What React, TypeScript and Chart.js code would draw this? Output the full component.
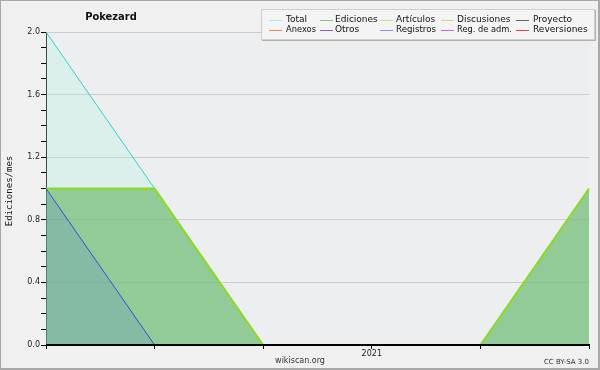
import React, { useEffect, useRef } from "react";
import { Chart, registerables } from "chart.js";

Chart.register(...registerables);

const months = ["2020-10", "2020-11", "2020-12", "2021-01", "2021-02", "2021-03"];
const totalValues = [2, 1, 0, 0, 0, 1];
const articulosValues = [1, 1, 0, 0, 0, 1];
const registrosValues = [1, 0, 0, 0, 0, 0];
const yMax = 2;

const legendLabels = [
  "Total", "Ediciones", "Artículos", "Discusiones", "Proyecto",
  "Anexos", "Otros", "Registros", "Reg. de adm.", "Reversiones",
];
const legendColors = [
  "#a8e8e6", "#7cc98a", "#bfe86a", "#ecd070", "#666666",
  "#f08a4a", "#8a5ad0", "#8a94ec", "#c46ad8", "#e04848",
];

const chartTitle = "Pokezard";
const yTitle = "Ediciones/mes";
const footer = "wikiscan.org";
const license = "CC BY-SA 3.0";

const decor = {
  id: "decor",
  beforeDraw(chart: any) {
    const { ctx, chartArea: a, width, height } = chart;
    ctx.save();
    ctx.fillStyle = "#f0f0f0";
    ctx.fillRect(0, 0, width, height);
    ctx.fillStyle = "#edeef0";
    ctx.fillRect(a.left, a.top, a.right - a.left, a.bottom - a.top);
    ctx.strokeStyle = "#a8a8a8";
    ctx.lineWidth = 2;
    ctx.strokeRect(0, 0, width - 1, height - 1);
    ctx.restore();
  },
  afterDatasetsDraw(chart: any) {
    const { ctx, chartArea: a } = chart;
    ctx.save();
    ctx.strokeStyle = "#000";
    ctx.lineWidth = 1.5;
    const y = Math.round(a.bottom) - 0.25;
    ctx.beginPath();
    ctx.moveTo(a.left, y);
    ctx.lineTo(a.right + 1, y);
    ctx.stroke();
    ctx.restore();
  },
  afterDraw(chart: any) {
    const { ctx } = chart;
    ctx.save();
    ctx.fillStyle = "#111";
    ctx.textBaseline = "middle";
    ctx.textAlign = "center";
    ctx.font = "bold 11px 'DejaVu Sans Condensed', 'DejaVu Sans'";
    ctx.fillText(chartTitle, 111, 17);

    ctx.save();
    ctx.translate(10, 191);
    ctx.rotate(-Math.PI / 2);
    ctx.font = "9px 'DejaVu Sans Mono'";
    ctx.fillStyle = "#111";
    ctx.fillText(yTitle, 0, 0);
    ctx.restore();

    ctx.font = "8px 'DejaVu Sans'";
    ctx.fillStyle = "#333";
    ctx.fillText(footer, 300, 361);
    ctx.textAlign = "right";
    ctx.font = "7px 'DejaVu Sans'";
    ctx.fillText(license, 589, 362);

    // legend box
    ctx.fillStyle = "#f4f4f4";
    ctx.fillRect(261, 9, 333, 30);
    ctx.strokeStyle = "#cfcfcf";
    ctx.lineWidth = 1;
    ctx.strokeRect(261.5, 9.5, 333, 30);
    ctx.strokeStyle = "#b0b0b0";
    ctx.beginPath();
    ctx.moveTo(262, 40.5);
    ctx.lineTo(595.5, 40.5);
    ctx.lineTo(595.5, 10);
    ctx.stroke();

    const lineX = [269, 320, 380, 441, 516];
    const textX = [286, 335, 396, 457, 533];
    const maxW = [30, 43, 40, 55, 58];
    const rowY = [19.5, 29.5];
    ctx.font = "9px 'DejaVu Sans'";
    ctx.textAlign = "left";
    legendLabels.forEach((lab, i) => {
      const col = i % 5;
      const row = Math.floor(i / 5);
      const y = rowY[row];
      ctx.strokeStyle = legendColors[i];
      ctx.lineWidth = 1;
      ctx.beginPath();
      ctx.moveTo(lineX[col], Math.round(y) + 0.5);
      ctx.lineTo(lineX[col] + 13, Math.round(y) + 0.5);
      ctx.stroke();
      ctx.fillStyle = "#111";
      ctx.fillText(lab, textX[col], y, maxW[col]);
    });
    ctx.restore();
  },
};

export default function App() {
  const ref = useRef<HTMLCanvasElement>(null);
  useEffect(() => {
    document.body.style.margin = "0";
    const chart = new Chart(ref.current!, {
      type: "line",
      data: {
        labels: months,
        datasets: [
          {
            label: "Registros",
            data: registrosValues,
            borderColor: "#3050e0",
            borderWidth: 1,
            backgroundColor: "rgba(60,100,230,0.15)",
            fill: "origin",
            pointRadius: 0,
            tension: 0,
          },
          {
            label: "Artículos",
            data: articulosValues,
            borderColor: "#88e010",
            borderWidth: 1.8,
            backgroundColor: "rgba(97,178,97,0.6)",
            fill: "origin",
            pointRadius: 0,
            tension: 0,
          },
          {
            label: "Total",
            data: totalValues,
            borderColor: "#30d0d0",
            borderWidth: 1,
            backgroundColor: "rgba(178,246,221,0.3)",
            fill: "origin",
            pointRadius: 0,
            tension: 0,
          },
        ],
      },
      options: {
        responsive: false,
        animation: false,
        layout: { padding: { top: 32, right: 11, left: 0, bottom: 0 } },
        plugins: { legend: { display: false }, tooltip: { enabled: false }, title: { display: false } },
        scales: {
          x: {
            offset: false,
            border: { color: "#000", width: 1 },
            grid: { drawOnChartArea: false, tickColor: "#000", tickLength: 4 },
            ticks: {
              autoSkip: false,
              maxRotation: 0,
              padding: 0,
              color: "#222",
              font: { size: 8, family: "DejaVu Sans" },
              callback: (_v: any, i: number) => (months[i].endsWith("-01") ? months[i].slice(0, 4) : ""),
            },
            afterFit: (s: any) => { s.height = 25; },
          },
          y: {
            min: 0,
            max: yMax,
            border: { color: "#000", width: 1 },
            grid: {
              color: (c: any) => (Math.round(c.tick.value * 10) % 4 === 0 && c.tick.value > 0 ? "#cdcdcd" : "rgba(0,0,0,0)"),
              tickColor: "#000",
              tickLength: 5,
            },
            ticks: {
              stepSize: 0.1,
              autoSkip: false,
              padding: 1,
              color: "#222",
              font: { size: 8, family: "DejaVu Sans" },
              callback: (v: any) => (Math.round(v * 10) % 4 === 0 ? Number(v).toFixed(1) : ""),
            },
            afterFit: (s: any) => { s.width = 46; },
          },
        },
      },
      plugins: [decor],
    });
    return () => chart.destroy();
  }, []);
  return <canvas ref={ref} width={600} height={370} style={{ display: "block" }} />;
}
